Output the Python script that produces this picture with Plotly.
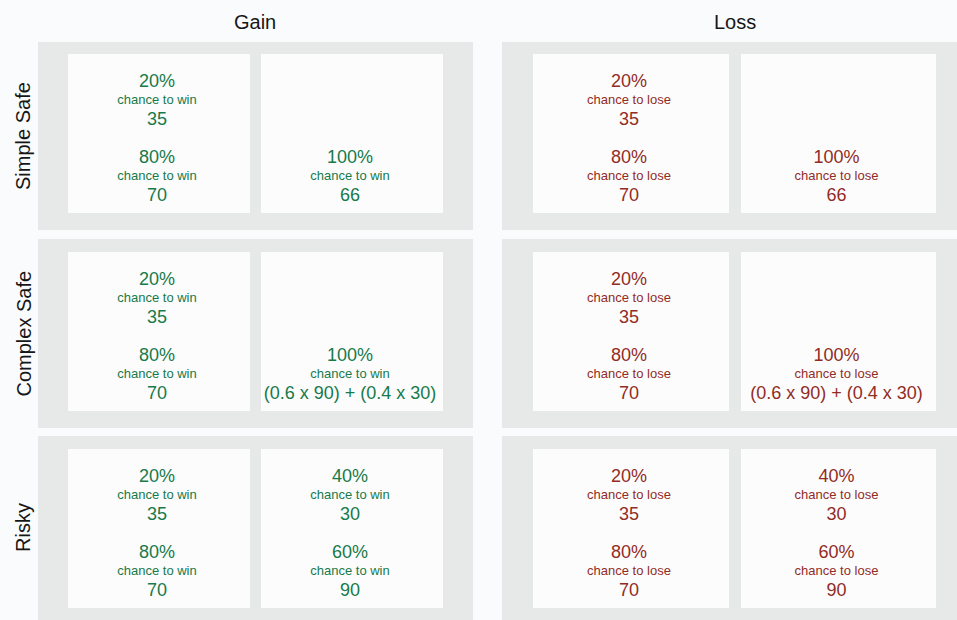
import plotly.graph_objects as go

# Conditions and gambles
conditions = ['Simple Safe', 'Complex Safe', 'Risky']
domains = ['Gain', 'Loss']
domain_words = {'Gain': 'chance to win', 'Loss': 'chance to lose'}
domain_colors = {'Gain': '#177a4a', 'Loss': '#922c24'}

# left option is the same gamble in every condition
left_probs = ['20%', '80%']
left_outcomes = ['35', '70']

# right option per condition (a single entry sits in the lower slot)
right_probs = {
    'Simple Safe': ['100%'],
    'Complex Safe': ['100%'],
    'Risky': ['40%', '60%'],
}
right_outcomes = {
    'Simple Safe': ['66'],
    'Complex Safe': ['(0.6 x 90) + (0.4 x 30)'],
    'Risky': ['30', '90'],
}

# layout in pixels
W, H = 957, 620
panel_x = {'Gain': (38, 473), 'Loss': (502, 957)}
box_x = {'Gain': [(68, 250), (261, 443)], 'Loss': [(533, 729), (741, 936)]}
panel_y = [(42, 230), (239, 428), (436, 620)]
box_y = [(54, 213), (252, 411), (449, 608)]
header_x = {'Gain': 255, 'Loss': 735}
slot_offsets = [28, 104]      # top of each prob/outcome block inside a box
line_steps = [0, 19, 38]       # prob, words, outcome

BG = '#fafbfc'
PANEL = '#e7e9e9'
BOX = '#fcfcfd'
FONT = 'Liberation Sans, Arial, sans-serif'

fig = go.Figure()
shapes = []

for d in domains:
    for r in range(len(conditions)):
        shapes.append(dict(type='rect', xref='x', yref='y', layer='below',
                           x0=panel_x[d][0], x1=panel_x[d][1],
                           y0=panel_y[r][0], y1=panel_y[r][1],
                           fillcolor=PANEL, line=dict(width=0)))
        for bx in box_x[d]:
            shapes.append(dict(type='rect', xref='x', yref='y', layer='below',
                               x0=bx[0], x1=bx[1],
                               y0=box_y[r][0], y1=box_y[r][1],
                               fillcolor=BOX, line=dict(width=0)))

for d in domains:
    big_x, big_y, big_t = [], [], []
    small_x, small_y, small_t = [], [], []
    for r, cond in enumerate(conditions):
        options = [(left_probs, left_outcomes), (right_probs[cond], right_outcomes[cond])]
        for col, (probs, outs) in enumerate(options):
            cx = (box_x[d][col][0] + box_x[d][col][1]) / 2 - 2
            slots = slot_offsets[-len(probs):]
            for p, o, s in zip(probs, outs, slots):
                top = box_y[r][0] + s
                big_x += [cx, cx]
                big_y += [top + line_steps[0], top + line_steps[2]]
                big_t += [p, o]
                small_x.append(cx)
                small_y.append(top + line_steps[1])
                small_t.append(domain_words[d])
    fig.add_trace(go.Scatter(x=big_x, y=big_y, text=big_t, mode='text',
                             textposition='middle center', hoverinfo='skip',
                             textfont=dict(size=18, color=domain_colors[d], family=FONT)))
    fig.add_trace(go.Scatter(x=small_x, y=small_y, text=small_t, mode='text',
                             textposition='middle center', hoverinfo='skip',
                             textfont=dict(size=13, color=domain_colors[d], family=FONT)))

annotations = []
for d in domains:
    annotations.append(dict(x=header_x[d], y=22, xref='x', yref='y', text=d,
                            showarrow=False, font=dict(size=20, color='#161616', family=FONT)))
for r, cond in enumerate(conditions):
    annotations.append(dict(x=23, y=(panel_y[r][0] + panel_y[r][1]) / 2, xref='x', yref='y',
                            text=cond, textangle=-90, showarrow=False,
                            font=dict(size=20, color='#161616', family=FONT)))

fig.update_layout(
    width=W, height=H,
    margin=dict(l=0, r=0, t=0, b=0),
    paper_bgcolor=BG, plot_bgcolor=BG,
    showlegend=False,
    shapes=shapes,
    annotations=annotations,
    xaxis=dict(range=[0, W], visible=False, fixedrange=True),
    yaxis=dict(range=[H, 0], visible=False, fixedrange=True),
)

fig.write_html('out.html', config={'displayModeBar': False},
               post_script="document.body.style.margin='0';document.body.style.overflow='hidden';")
